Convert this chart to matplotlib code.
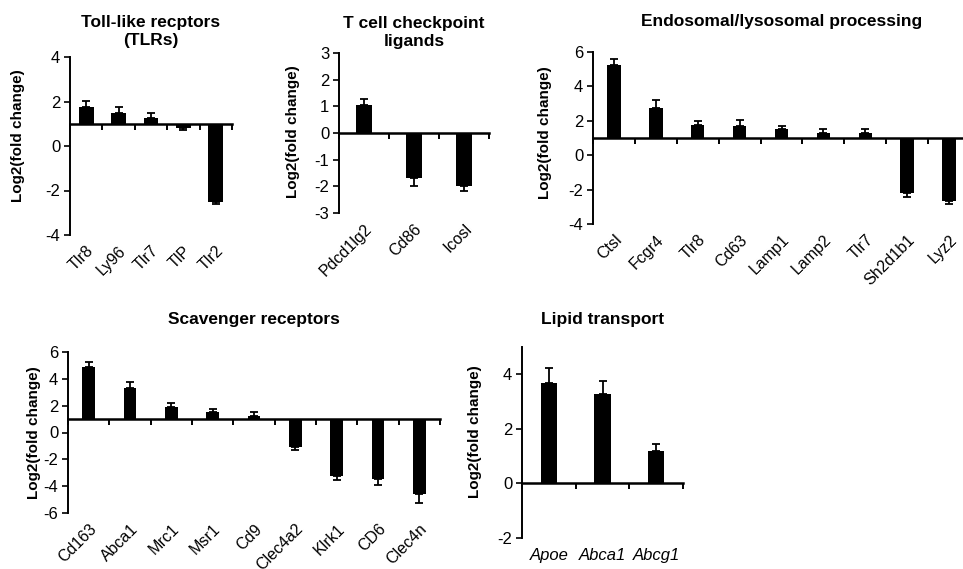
import numpy as np
import matplotlib
matplotlib.use("Agg")
import matplotlib.pyplot as plt

plt.rcParams["font.family"] = ["Liberation Sans", "DejaVu Sans"]
plt.rcParams["axes.unicode_minus"] = False

# %% data
tlr_genes = ["Tlr8", "Ly96", "Tlr7", "TlP", "Tlr2"]
tlr_vals = [1.75, 1.5, 1.28, 0.82, -2.5]
tlr_err = [0.28, 0.25, 0.2, 0.08, 0.1]

tcell_genes = ["Pdcd1lg2", "Cd86", "Icosl"]
tcell_vals = [1.05, -1.7, -1.97]
tcell_err = [0.22, 0.27, 0.19]

endo_genes = ["Ctsl", "Fcgr4", "Tlr8", "Cd63", "Lamp1", "Lamp2", "Tlr7", "Sh2d1b1", "Lyz2"]
endo_vals = [5.25, 2.73, 1.75, 1.7, 1.52, 1.3, 1.27, -2.18, -2.66]
endo_err = [0.36, 0.46, 0.25, 0.35, 0.2, 0.25, 0.23, 0.23, 0.18]

scav_genes = ["Cd163", "Abca1", "Mrc1", "Msr1", "Cd9", "Clec4a2", "Klrk1", "CD6", "Clec4n"]
scav_vals = [4.85, 3.3, 1.92, 1.55, 1.22, -1.07, -3.27, -3.45, -4.56]
scav_err = [0.38, 0.45, 0.26, 0.21, 0.28, 0.24, 0.3, 0.45, 0.68]

lipid_genes = ["Apoe", "Abca1", "Abcg1"]
lipid_vals = [3.68, 3.29, 1.18]
lipid_err = [0.55, 0.45, 0.26]

W, H = 963, 569
fig = plt.figure(figsize=(W / 100, H / 100), dpi=100)


def box(l, r, t, b):
    return [l / W, 1 - b / H, (r - l) / W, (b - t) / H]


def panel(pos, genes, vals, err, base, ylim, yticks, title, tpad, width,
          ylab_xy, italic=False, rot=45):
    ax = fig.add_axes(pos)
    x = np.arange(len(genes))
    vals = np.array(vals)
    err = np.array(err)
    up = vals >= base
    yerr = np.vstack([np.where(up, 0, err), np.where(up, err, 0)])
    ax.bar(x, vals - base, bottom=base, width=width, color="black", zorder=2)
    ax.errorbar(x, vals, yerr=yerr, fmt="none", ecolor="black",
                elinewidth=1.3, capsize=3, capthick=1.3, zorder=3)
    ax.set_xlim(-0.5, len(genes) - 0.5)
    ax.set_ylim(*ylim)
    ax.set_yticks(yticks)
    ax.tick_params(axis="y", direction="out", length=4, width=1.2,
                   labelsize=12, pad=3)
    for s in ["top", "right"]:
        ax.spines[s].set_visible(False)
    ax.spines["left"].set_linewidth(1.4)
    ax.spines["bottom"].set_position(("data", base))
    ax.spines["bottom"].set_linewidth(1.8)
    ax.set_xticks(np.arange(len(genes) + 1) - 0.5)
    ax.set_xticklabels([])
    ax.tick_params(axis="x", direction="out", length=4, width=1.4)
    ax.set_ylabel("Log2(fold change)", fontsize=11, fontweight="bold")
    # label x is the right edge of the rotated text
    ax.yaxis.set_label_coords((ylab_xy[0] + 7) / W, 1 - ylab_xy[1] / H,
                              transform=fig.transFigure)
    ax.set_title(title, fontsize=12.5, fontweight="bold", pad=tpad,
                 linespacing=1.25)

    sec = ax.secondary_xaxis(0.0)
    sec.spines["bottom"].set_visible(False)
    sec.set_xticks(x)
    if italic:
        sec.set_xticklabels(genes, fontsize=12, style="italic")
        sec.tick_params(length=0, pad=7)
    else:
        sec.set_xticklabels(genes, fontsize=11.5, rotation=rot, ha="right",
                            rotation_mode="anchor")
        sec.tick_params(length=0, pad=6)
    return ax


panel(box(70, 232, 57, 235), tlr_genes, tlr_vals, tlr_err, 1, (-4, 4),
      [-4, -2, 0, 2, 4], "Toll-like recptors\n(TLRs)", 9, 0.46, (18, 136))
panel(box(339, 489, 53, 213), tcell_genes, tcell_vals, tcell_err, 0, (-3, 3),
      [-3, -2, -1, 0, 1, 2, 3], "T cell checkpoint\nligands", 5, 0.32, (293, 132))
panel(box(593, 970, 52, 224), endo_genes, endo_vals, endo_err, 1, (-4, 6),
      [-4, -2, 0, 2, 4, 6], "Endosomal/lysosomal processing", 18.5, 0.32, (545, 133))
panel(box(68, 440, 352, 513), scav_genes, scav_vals, scav_err, 1, (-6, 6),
      [-6, -4, -2, 0, 2, 4, 6], "Scavenger receptors", 20.5, 0.31, (34, 433))
panel(box(522, 683, 347, 538), lipid_genes, lipid_vals, lipid_err, 0, (-2, 5),
      [-2, 0, 2, 4], "Lipid transport", 16.5, 0.31, (475, 432), italic=True)

fig.savefig("out.png", dpi=100)
